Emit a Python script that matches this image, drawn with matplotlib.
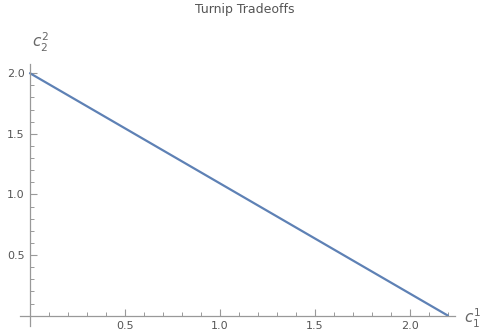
import numpy as np
import matplotlib.pyplot as plt
from matplotlib.ticker import MultipleLocator

# tradeoff line end points
c1 = [0.0, 2.2]
c2 = [2.0, 0.0]
major_ticks = [0.5, 1.0, 1.5, 2.0]

fig = plt.figure(figsize=(4.85, 3.34), dpi=100)
ax = fig.add_axes([0.0412, 0.024, 0.897, 0.784])

ax.plot(c1, c2, color='#5E81B5', linewidth=1.6, solid_capstyle='round')

ax.set_xlim(-0.0526, 2.237)
ax.set_ylim(-0.085, 2.075)

for s in ['top', 'right']:
   ax.spines[s].set_visible(False)
for s in ['left', 'bottom']:
   ax.spines[s].set_position(('data', 0))
   ax.spines[s].set_color('#999999')
   ax.spines[s].set_linewidth(0.9)

ax.set_xticks(major_ticks)
ax.set_yticks(major_ticks)
ax.set_xticklabels(['%.1f' % v for v in major_ticks])
ax.set_yticklabels(['%.1f' % v for v in major_ticks])
ax.xaxis.set_minor_locator(MultipleLocator(0.1))
ax.yaxis.set_minor_locator(MultipleLocator(0.1))
ax.tick_params(which='major', direction='in', length=5, width=0.8, color='#999999',
               labelsize=8, labelcolor='#555555', pad=4)
ax.tick_params(which='minor', direction='in', length=3, width=0.7, color='#999999')

fig.text(245 / 485, 1 - 10 / 334, 'Turnip Tradeoffs', fontsize=9, color='#555555',
         ha='center', va='center')
fig.text(40 / 485, 1 - 42 / 334, '$c_2^2$', fontsize=11, color='#666666',
         ha='center', va='center')
fig.text(472 / 485, 1 - 318 / 334, '$c_1^1$', fontsize=11, color='#666666',
         ha='center', va='center')

plt.savefig('out.png', dpi=100)
